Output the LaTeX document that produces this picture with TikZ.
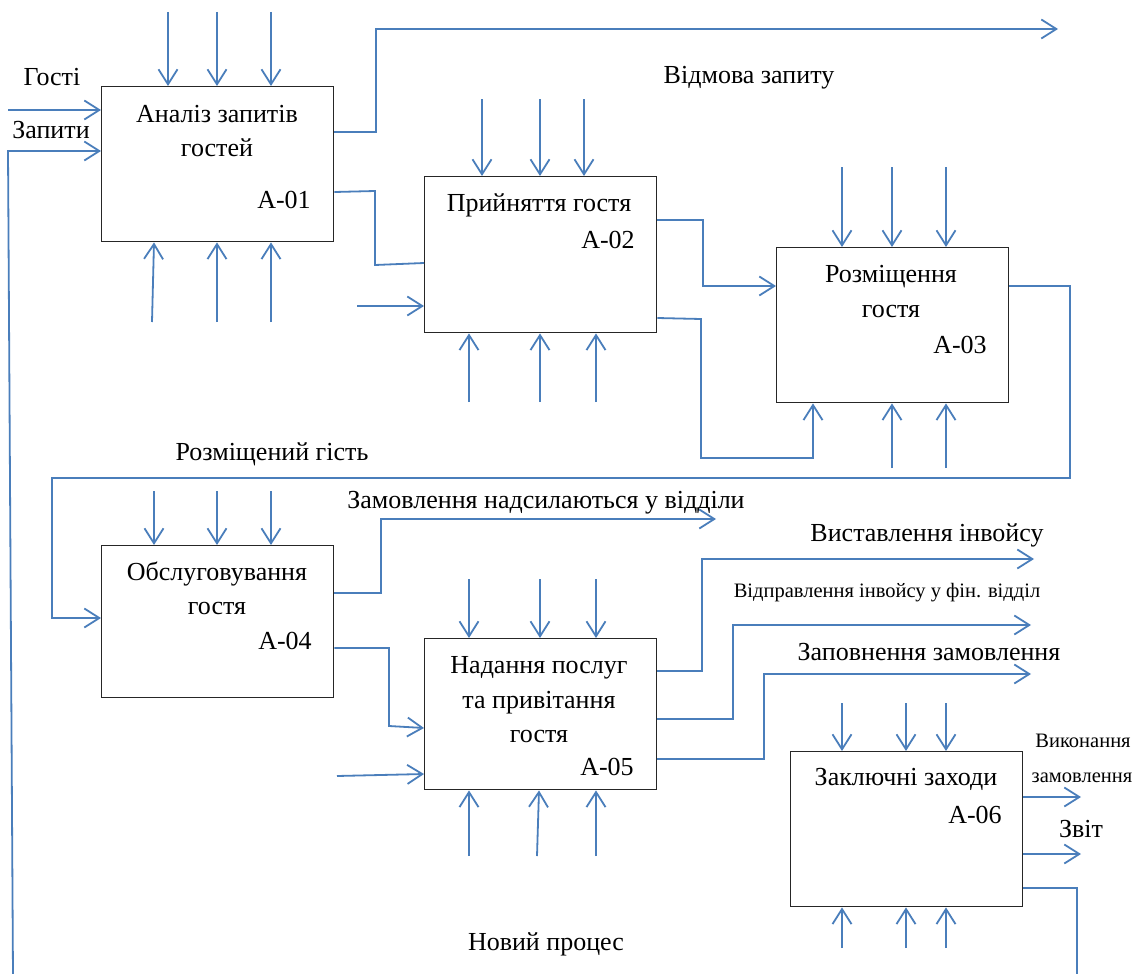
\documentclass[tikz,border=0pt]{standalone}
\usepackage{fontspec}
\setmainfont{Liberation Serif}
\usetikzlibrary{arrows.meta}
\definecolor{flow}{HTML}{4A7EBB}
\begin{document}
\begin{tikzpicture}[x=1pt,y=-1pt,
  fn/.style={draw=black!85,line width=1.4pt,inner sep=0pt,anchor=north west,
             minimum width=232pt},
  ln/.style={draw=flow,line width=1.8pt,line join=miter},
  arr/.style={ln,-{Straight Barb[length=15pt,width=19pt,line width=1.8pt]}},
  txt/.style={anchor=base,inner sep=0pt,font=\fontsize{26}{30}\selectfont},
  small/.style={anchor=base,inner sep=0pt,font=\fontsize{20.5}{24}\selectfont}]
\useasboundingbox (0,0) rectangle (1135,974);

% function boxes
\node[fn,minimum height=155pt] (A1) at (101,86) {};
\node[fn,minimum height=156pt] (A2) at (424,176) {};
\node[fn,minimum height=155pt] (A3) at (776,247) {};
\node[fn,minimum height=152pt] (A4) at (101,545) {};
\node[fn,minimum height=151pt] (A5) at (424,638) {};
\node[fn,minimum height=155pt] (A6) at (790,751) {};

% box titles and numbers
\node[txt] (t1a) at (217,122) {Аналіз запитів};
\node[txt] (t1b) at (217,156) {гостей};
\node[txt] (n1)  at (284,208) {A-01};
\node[txt] (t2a) at (539,211) {Прийняття гостя};
\node[txt] (n2)  at (608,248) {A-02};
\node[txt] (t3a) at (891,282) {Розміщення};
\node[txt] (t3b) at (891,317) {гостя};
\node[txt] (n3)  at (960,353) {A-03};
\node[txt] (t4a) at (217,580) {Обслуговування};
\node[txt] (t4b) at (217,614) {гостя};
\node[txt] (n4)  at (285,649) {A-04};
\node[txt] (t5a) at (539,673) {Надання послуг};
\node[txt] (t5b) at (539,708) {та привітання};
\node[txt] (t5c) at (539,742) {гостя};
\node[txt] (n5)  at (607,775) {A-05};
\node[txt] (t6a) at (906,785) {Заключні заходи};
\node[txt] (n6)  at (975,823) {A-06};

% flow labels
\node[txt] (lGuests)  at (52,85)   {Гості};
\node[txt] (lReq)     at (51,138)  {Запити};
\node[txt] (lRefuse)  at (749,83)  {Відмова запиту};
\node[txt] (lPlaced)  at (272,460) {Розміщений гість};
\node[txt] (lOrders)  at (546,508) {Замовлення надсилаються у відділи};
\node[txt] (lInvoice) at (927,541) {Виставлення інвойсу};
\node[small] (lSend)  at (887,597) {Відправлення інвойсу у фін. відділ};
\node[txt] (lFill)    at (929,660) {Заповнення замовлення};
\node[small] (lDone1) at (1083,747) {Виконання};
\node[small] (lDone2) at (1082,782) {замовлення};
\node[txt] (lReport)  at (1081,837) {Звіт};
\node[txt] (lNew)     at (546,950) {Новий процес};

% free ends of the outer connectors
\coordinate (inGuests) at (8,110);
\coordinate (fbFoot)   at (13,976);
\coordinate (fbTop)    at (8,151);
\coordinate (refuseEnd) at (1058,29);
\coordinate (ordersEnd) at (716,519);
\coordinate (invEnd)   at (1034,559);
\coordinate (sendEnd)  at (1031,625);
\coordinate (fillEnd)  at (1031,674);
\coordinate (doneEnd)  at (1081,797);
\coordinate (repEnd)   at (1081,854);
\coordinate (newEnd)   at (1077,976);

% A-01
\draw[arr] (inGuests) -- (A1.west |- inGuests);
\draw[arr] (fbFoot) -- (fbTop) -- (A1.west |- fbTop);
\foreach \x in {168,217,271} \draw[arr] (\x,12) -- (\x,0 |- A1.north);
\draw[arr] (152,322) -- (154,0 |- A1.south);
\foreach \x in {217,271} \draw[arr] (\x,322) -- (\x,0 |- A1.south);
\draw[arr] (A1.east |- 0,132) -- (376,132) -- (376,29) -- (refuseEnd);
\draw[ln] (A1.east |- 0,192) -- (375,191) -- (375,265) -- (A2.west |- 0,263);

% A-02
\foreach \x in {482,540,584} \draw[arr] (\x,99) -- (\x,0 |- A2.north);
\draw[arr] (357,306) -- (A2.west |- 0,306);
\foreach \x in {469,540,596} \draw[arr] (\x,402) -- (\x,0 |- A2.south);
\draw[arr] (A2.east |- 0,220) -- (703,220) -- (703,286) -- (A3.west |- 0,286);
\draw[arr] (A2.east |- 0,318) -- (701,319) -- (701,458) -- (813,458) -- (813,0 |- A3.south);

% A-03
\foreach \x in {842,892,946} \draw[arr] (\x,167) -- (\x,0 |- A3.north);
\foreach \x in {892,946} \draw[arr] (\x,468) -- (\x,0 |- A3.south);
\draw[arr] (A3.east |- 0,286) -- (1070,286) -- (1070,478) -- (52,478) -- (52,618) -- (A4.west |- 0,618);

% A-04
\foreach \x in {154,217,271} \draw[arr] (\x,491) -- (\x,0 |- A4.north);
\draw[arr] (A4.east |- 0,593) -- (381,593) -- (381,519) -- (ordersEnd);
\draw[arr] (A4.east |- 0,648) -- (389,648) -- (389,726) -- (A5.west |- 0,728);

% A-05
\foreach \x in {469,540,596} \draw[arr] (\x,579) -- (\x,0 |- A5.north);
\draw[arr] (337,776) -- (A5.west |- 0,774);
\draw[arr] (469,856) -- (469,0 |- A5.south);
\draw[arr] (537,856) -- (539,0 |- A5.south);
\draw[arr] (596,856) -- (596,0 |- A5.south);
\draw[arr] (A5.east |- 0,671) -- (702,671) -- (702,559) -- (invEnd);
\draw[arr] (A5.east |- 0,719) -- (733,719) -- (733,625) -- (sendEnd);
\draw[arr] (A5.east |- 0,759) -- (764,759) -- (764,674) -- (fillEnd);

% A-06
\foreach \x in {842,906,946} \draw[arr] (\x,703) -- (\x,0 |- A6.north);
\foreach \x in {842,906,946} \draw[arr] (\x,948) -- (\x,0 |- A6.south);
\draw[arr] (A6.east |- doneEnd) -- (doneEnd);
\draw[arr] (A6.east |- repEnd) -- (repEnd);
\draw[ln] (A6.east |- 0,888) -- (1077,888) -- (newEnd);
\end{tikzpicture}
\end{document}
